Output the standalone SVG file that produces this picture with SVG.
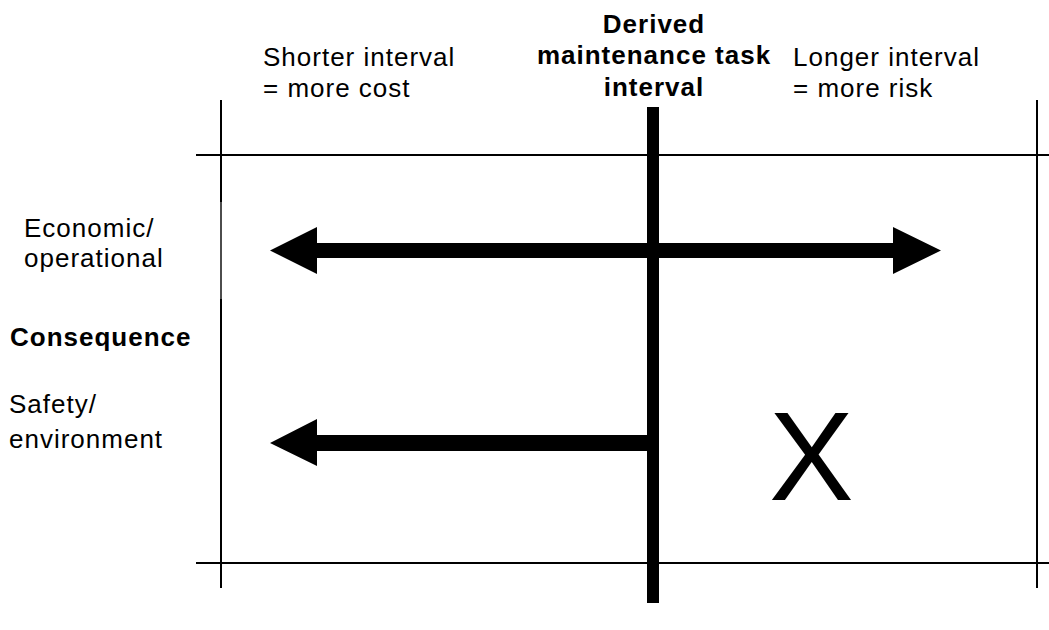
<svg xmlns="http://www.w3.org/2000/svg" width="1049" height="630" viewBox="0 0 1049 630">
  <style>
    .lbl { font-family: "Liberation Sans", Arial, sans-serif; font-size: 26px; letter-spacing: 1px; fill: #000; }
    .bold { font-weight: bold; }
    .mid { text-anchor: middle; }
    .thin { stroke: #000; stroke-width: 2; fill: none; }
    .hair { stroke: #000; stroke-width: 1.4; fill: none; }
    .solid { fill: #000; stroke: none; }
  </style>
  <rect width="1049" height="630" fill="#fff"/>

  <!-- frame lines -->
  <g id="frame">
    <line class="thin" x1="196" y1="155" x2="1049" y2="155"/>
    <line class="thin" x1="196" y1="563" x2="1049" y2="563"/>
    <line class="thin" x1="221" y1="100" x2="221" y2="202"/>
    <line class="hair" x1="221" y1="202" x2="221" y2="299"/>
    <line class="thin" x1="221" y1="299" x2="221" y2="588"/>
    <line class="thin" x1="1037" y1="100" x2="1037" y2="588"/>
  </g>

  <!-- derived interval axis -->
  <g id="axis">
    <rect class="solid" x="647" y="107" width="12" height="496"/>
  </g>

  <!-- connectors -->
  <g id="connectors">
    <polygon class="solid" points="270,250.5 317,227 317,243 893,243 893,227 941,250.5 893,274 893,258 317,258 317,274"/>
    <polygon class="solid" points="270,443 317,419 317,435 650,435 650,451 317,451 317,466"/>
  </g>

  <g id="header-left">
    <text class="lbl" x="263" y="66">Shorter interval</text>
    <text class="lbl" x="263" y="97">= more cost</text>
  </g>
  <g id="header-center">
    <text class="lbl bold mid" x="654" y="33">Derived</text>
    <text class="lbl bold mid" x="654" y="64">maintenance task</text>
    <text class="lbl bold mid" x="654" y="96">interval</text>
  </g>
  <g id="header-right">
    <text class="lbl" x="793" y="66">Longer interval</text>
    <text class="lbl" x="793" y="97">= more risk</text>
  </g>

  <g id="row-economic">
    <text class="lbl" x="24" y="237">Economic/</text>
    <text class="lbl" x="24" y="267">operational</text>
  </g>
  <g id="consequence">
    <text class="lbl bold" x="10" y="346">Consequence</text>
  </g>
  <g id="row-safety">
    <text class="lbl" x="9" y="413">Safety/</text>
    <text class="lbl" x="9" y="448">environment</text>
  </g>

  <g id="mark-x">
    <text x="769" y="500" style="font-family: 'Liberation Sans', Arial, sans-serif; font-size: 127px; fill: #000;">X</text>
  </g>
</svg>
